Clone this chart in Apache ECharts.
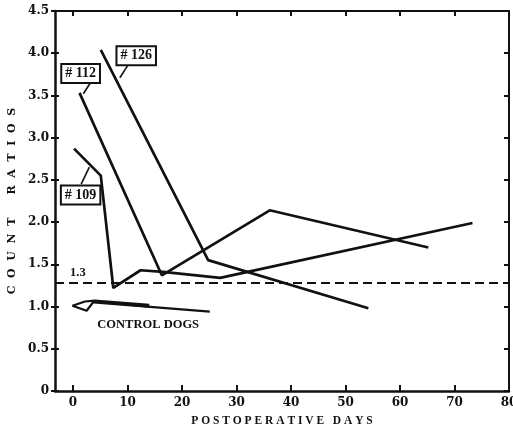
<!DOCTYPE html>
<html>
<head>
<meta charset="utf-8">
<script src="https://cdn.jsdelivr.net/npm/echarts@6/dist/echarts.min.js"></script>
<style>
  html, body { margin: 0; padding: 0; background: #fff; }
  #chart { width: 513px; height: 429px; }
</style>
</head>
<body>
<div id="chart"></div>
<script>
// tick values
const xTicks = [0, 10, 20, 30, 40, 50, 60, 70, 80]
const xTopTicks = [0, 10, 20, 30, 40, 50, 60, 70]

// dogs, [day, count ratio]
const dog109 = [[0.2, 2.87], [5.1, 2.55], [7.4, 1.22], [12.4, 1.43], [16.5, 1.41], [27, 1.34], [73.3, 1.99]]
const dog112 = [[1.2, 3.53], [16.3, 1.37], [36.1, 2.14], [65.2, 1.70]]
const dog126 = [[5.1, 4.04], [24.8, 1.55], [54.2, 0.98]]

// control dogs
const ctrlA = [[-0.1, 1.01], [2.2, 1.06], [4, 1.07], [14, 1.02]]
const ctrlB = [[-0.1, 1.01], [2.5, 0.95], [3.8, 1.06], [14, 1.0]]
const ctrlC = [[3.8, 1.05], [25.1, 0.94]]

const threshold = 1.28

// label boxes and their leader lines
const boxes = [
  { text: '# 126', at: [11.6, 3.97] },
  { text: '# 112', at: [1.4, 3.76] },
  { text: '# 109', at: [1.4, 2.32] },
]
const leaders = [
  [[10.0, 3.85], [8.6, 3.71]],
  [[3.2, 3.65], [1.9, 3.52]],
  [[1.5, 2.45], [3.0, 2.65]],
]
const notes = [
  { text: '1.3', at: [0.9, 1.40] },
  { text: 'CONTROL DOGS', at: [13.8, 0.78] },
]

const serif = 'DejaVu Serif'
const ink = '#111'

const chart = echarts.init(document.getElementById('chart'))

const dogLine = (data, w) => ({
  type: 'line',
  data: data,
  symbol: 'none',
  animation: false,
  lineStyle: { color: ink, width: w },
})

const series = [
  dogLine(dog109, 2.7),
  dogLine(dog112, 2.7),
  dogLine(dog126, 2.7),
  dogLine(ctrlA, 2.2),
  dogLine(ctrlB, 2.2),
  dogLine(ctrlC, 2.2),
]
series[0].markLine = {
  silent: true,
  symbol: 'none',
  label: { show: false },
  lineStyle: { color: ink, width: 2, type: [9, 5] },
  data: [{ yAxis: threshold }],
}
leaders.forEach(l => series.push(dogLine(l, 1.6)))
series.push({
  type: 'scatter',
  animation: false,
  symbol: 'rect',
  symbolSize: 0,
  itemStyle: { color: '#fff', opacity: 1 },
  data: boxes.map(b => ({ value: b.at, name: b.text })),
  label: {
    show: true,
    position: 'inside',
    formatter: p => p.name,
    fontFamily: 'Liberation Serif',
    fontWeight: 'bold',
    fontSize: 14,
    color: ink,
    backgroundColor: '#fff',
    borderColor: ink,
    borderWidth: 2,
    padding: [2, 3, 1, 3],
  },
})
series.push({
  type: 'scatter',
  animation: false,
  symbolSize: 0,
  itemStyle: { color: '#fff', opacity: 1 },
  data: notes.map(n => ({ value: n.at, name: n.text })),
  label: {
    show: true,
    position: 'inside',
    formatter: p => p.name,
    fontFamily: 'Liberation Serif',
    fontWeight: 'bold',
    fontSize: 12.5,
    color: ink,
  },
})

const axisFont = { fontFamily: serif, fontWeight: 'bold', fontSize: 12, color: ink }

chart.setOption({
  backgroundColor: '#fff',
  animation: false,
  grid: { left: 55, right: 4, top: 11, bottom: 38, outerBoundsMode: 'none', containLabel: false },
  xAxis: [{
    type: 'value',
    min: -3.3,
    max: 80,
    name: 'P O S T O P E R A T I V E   D A Y S',
    nameLocation: 'middle',
    nameGap: 24,
    nameTextStyle: { fontFamily: 'Liberation Serif', fontWeight: 'bold', fontSize: 11.5, color: ink },
    axisLine: { onZero: false, lineStyle: { color: ink, width: 2.5 } },
    axisTick: { inside: true, length: 6, customValues: xTicks, lineStyle: { color: ink, width: 2 } },
    axisLabel: { customValues: xTicks, margin: 6, ...axisFont },
    splitLine: { show: false },
  }, {
    type: 'value',
    position: 'top',
    min: -3.3,
    max: 80,
    axisLine: { onZero: false, lineStyle: { color: ink, width: 2 } },
    axisTick: { inside: true, length: 5, customValues: xTopTicks, lineStyle: { color: ink, width: 2 } },
    axisLabel: { show: false },
    splitLine: { show: false },
  }],
  yAxis: [{
    type: 'value',
    min: 0,
    max: 4.5,
    interval: 0.5,
    name: 'C  O  U  N  T      R  A  T  I  O  S',
    nameLocation: 'middle',
    nameGap: 37,
    nameRotate: 90,
    nameTextStyle: { fontFamily: serif, fontWeight: 'bold', fontSize: 11, color: ink },
    axisLine: { onZero: false, lineStyle: { color: ink, width: 2.5 } },
    axisTick: { length: 4, lineStyle: { color: ink, width: 2 } },
    axisLabel: { margin: 6, formatter: v => (v === 0 ? '0' : v.toFixed(1)), ...axisFont },
    splitLine: { show: false },
  }, {
    type: 'value',
    position: 'left',
    min: 0,
    max: 4.5,
    interval: 0.5,
    axisLine: { show: false, onZero: false },
    axisTick: { inside: true, length: 4, lineStyle: { color: ink, width: 2 } },
    axisLabel: { show: false },
    splitLine: { show: false },
  }, {
    type: 'value',
    position: 'right',
    min: 0,
    max: 4.5,
    interval: 0.5,
    axisLine: { onZero: false, lineStyle: { color: ink, width: 2 } },
    axisTick: { inside: true, length: 5, lineStyle: { color: ink, width: 2 } },
    axisLabel: { show: false },
    splitLine: { show: false },
  }],
  series: series,
})
</script>
</body>
</html>
